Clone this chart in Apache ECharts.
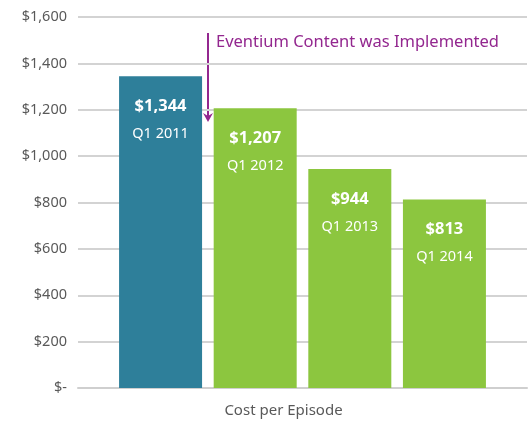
<!doctype html>
<html>
<head>
<meta charset="utf-8">
<title>Cost per Episode</title>
<script src="https://cdn.jsdelivr.net/npm/echarts@6/dist/echarts.min.js"></script>
</head>
<body style="margin: 0">
<div id="chart" style="width: 531px; height: 421px"></div>
<script>
// data
const categories = ['Cost per Episode']
const quarters = ['Q1 2011', 'Q1 2012', 'Q1 2013', 'Q1 2014']
const costs = [1344, 1207, 944, 813]
const barColors = ['#2e7f9a', '#8cc63f', '#8cc63f', '#8cc63f']
const yTicks = [0, 200, 400, 600, 800, 1000, 1200, 1400, 1600]

const font = 'Noto Sans'

function money(v) {
    if (v === 0) return '$-'
    return '$' + v.toLocaleString('en-US')
}

const series = quarters.map((q, i) => ({
    name: q,
    type: 'bar',
    barWidth: 83,
    barGap: '14%',
    data: [costs[i]],
    itemStyle: { color: barColors[i] },
    label: {
        show: true,
        position: 'insideTop',
        distance: 16,
        formatter: () => '{v|' + money(costs[i]) + '}\n{q|' + q + '}',
        rich: {
            v: { fontFamily: font, fontSize: 16.5, fontWeight: 'bold', color: '#fff', lineHeight: 28 },
            q: { fontFamily: font, fontSize: 14.5, color: '#fff', lineHeight: 27 }
        }
    }
}))

var myChart = echarts.init(document.getElementById('chart'))
myChart.setOption({
    animation: false,
    grid: { left: 78, right: 4, top: 17, bottom: 33 },
    xAxis: {
        type: 'category',
        data: categories,
        axisLine: { lineStyle: { color: '#cfcfcf', width: 2 } },
        axisTick: { show: false },
        axisLabel: { fontFamily: font, fontSize: 15, color: '#595959', margin: 15, padding: [0, 38, 0, 0] }
    },
    yAxis: {
        type: 'value',
        min: yTicks[0],
        max: yTicks[yTicks.length - 1],
        interval: 200,
        axisLine: { show: false },
        axisTick: { show: false },
        splitLine: { lineStyle: { color: '#d3d3d3', width: 2 } },
        axisLabel: { fontFamily: font, fontSize: 14.5, color: '#595959', margin: 11, formatter: money }
    },
    series: series,
    graphic: [
        {
            type: 'line',
            shape: { x1: 208, y1: 33, x2: 208, y2: 119 },
            style: { stroke: '#93278f', lineWidth: 2 }
        },
        {
            type: 'polygon',
            shape: { points: [[203, 113], [208, 122], [213, 113], [208, 116]] },
            style: { fill: '#93278f' }
        },
        {
            type: 'text',
            x: 216, y: 42,
            style: { text: 'Eventium Content was Implemented', fontFamily: font, fontSize: 16.5, fill: '#93278f', verticalAlign: 'middle' }
        }
    ]
})
</script>
</body>
</html>
